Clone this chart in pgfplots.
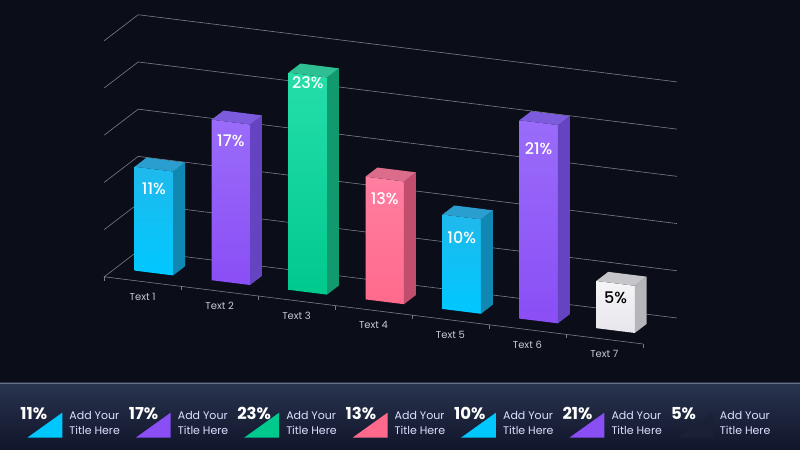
\documentclass[border=0pt]{standalone}
\usepackage{pgfplots}
\pgfplotsset{compat=1.18}
\usepackage{fontspec}
\setmainfont{Poppins}
\newfontfamily\pmed{Poppins Medium}
\definecolor{bg}{HTML}{0B0E18}
\definecolor{stripA}{HTML}{29344F}
\definecolor{stripB}{HTML}{10152A}
\definecolor{gridc}{HTML}{7A7E88}
\definecolor{tickc}{HTML}{C9CBD3}
% bar colours
\definecolor{cyF1}{HTML}{1FB9EC}\definecolor{cyF2}{HTML}{00C8FF}\definecolor{cyS}{HTML}{1187B3}\definecolor{cyT}{HTML}{2A9FCF}
\definecolor{puF1}{HTML}{9A6CFA}\definecolor{puF2}{HTML}{8A4EF5}\definecolor{puS}{HTML}{6444C0}\definecolor{puT}{HTML}{7C5CDC}
\definecolor{grF1}{HTML}{25DEA9}\definecolor{grF2}{HTML}{00C98E}\definecolor{grS}{HTML}{109A6E}\definecolor{grT}{HTML}{2EBF92}
\definecolor{piF1}{HTML}{FF7EA0}\definecolor{piF2}{HTML}{FF6A8C}\definecolor{piS}{HTML}{C24E6E}\definecolor{piT}{HTML}{DC6C8C}
\definecolor{whF1}{HTML}{F5F5F8}\definecolor{whF2}{HTML}{E6E6EC}\definecolor{whS}{HTML}{B5B5BA}\definecolor{whT}{HTML}{C6C6CA}
\definecolor{legdark}{HTML}{1A2036}
\begin{document}
\begin{tikzpicture}[x=1pt,y=1pt]
\fill[bg] (0,0) rectangle (800,-450);
\shade[top color=stripA, bottom color=stripB] (0,-383) rectangle (800,-450);
\draw[stripA!70!white, line width=0.6pt] (0,-383.3) -- (800,-383.3);
\begin{axis}[at={(104pt,-277pt)}, anchor=origin,
  x={(77pt,-9.6pt)}, y={(34pt,26pt)}, z={(0pt,9.45pt)},
  xmin=0, xmax=7, ymin=0, ymax=1, zmin=0, zmax=25,
  hide axis, clip=false]
% grid: left wall and back wall
\draw[gridc, line width=0.6pt] (axis cs:0,0,5) -- (axis cs:0,1,5) -- (axis cs:7,1,5);
\draw[gridc, line width=0.6pt] (axis cs:0,0,10) -- (axis cs:0,1,10) -- (axis cs:7,1,10);
\draw[gridc, line width=0.6pt] (axis cs:0,0,15) -- (axis cs:0,1,15) -- (axis cs:7,1,15);
\draw[gridc, line width=0.6pt] (axis cs:0,0,20) -- (axis cs:0,1,20) -- (axis cs:7,1,20);
\draw[gridc, line width=0.6pt] (axis cs:0,0,25) -- (axis cs:0,1,25) -- (axis cs:7,1,25);
% floor
\draw[gridc, line width=0.6pt] (axis cs:7,0,0) -- (axis cs:0,0,0) -- (axis cs:0,1,0) -- (axis cs:7,1,0);
% ticks
\draw[gridc, line width=0.6pt] (axis cs:0,0,0) -- ++(0pt,-4pt);
\draw[gridc, line width=0.6pt] (axis cs:1,0,0) -- ++(0pt,-4pt);
\draw[gridc, line width=0.6pt] (axis cs:2,0,0) -- ++(0pt,-4pt);
\draw[gridc, line width=0.6pt] (axis cs:3,0,0) -- ++(0pt,-4pt);
\draw[gridc, line width=0.6pt] (axis cs:4,0,0) -- ++(0pt,-4pt);
\draw[gridc, line width=0.6pt] (axis cs:5,0,0) -- ++(0pt,-4pt);
\draw[gridc, line width=0.6pt] (axis cs:6,0,0) -- ++(0pt,-4pt);
\draw[gridc, line width=0.6pt] (axis cs:7,0,0) -- ++(0pt,-4pt);
% tick labels
\node[text=tickc, font=\fontsize{10}{11}\selectfont, yshift=-15pt] at (axis cs:0.5,0,0) {Text 1};
\node[text=tickc, font=\fontsize{10}{11}\selectfont, yshift=-15pt] at (axis cs:1.5,0,0) {Text 2};
\node[text=tickc, font=\fontsize{10}{11}\selectfont, yshift=-15pt] at (axis cs:2.5,0,0) {Text 3};
\node[text=tickc, font=\fontsize{10}{11}\selectfont, yshift=-15pt] at (axis cs:3.5,0,0) {Text 4};
\node[text=tickc, font=\fontsize{10}{11}\selectfont, yshift=-15pt] at (axis cs:4.5,0,0) {Text 5};
\node[text=tickc, font=\fontsize{10}{11}\selectfont, yshift=-15pt] at (axis cs:5.5,0,0) {Text 6};
\node[text=tickc, font=\fontsize{10}{11}\selectfont, yshift=-15pt] at (axis cs:6.5,0,0) {Text 7};
% ---- Bar 1 : 11
\addplot3[draw=none, top color=cyF1, bottom color=cyF2] coordinates {(0.25,0.33,0) (0.75,0.33,0) (0.75,0.33,11) (0.25,0.33,11)} -- cycle;
\addplot3[draw=none, fill=cyS] coordinates {(0.75,0.33,0) (0.75,0.68,0) (0.75,0.68,11) (0.75,0.33,11)} -- cycle;
\addplot3[draw=none, fill=cyT] coordinates {(0.25,0.33,11) (0.75,0.33,11) (0.75,0.68,11) (0.25,0.68,11)} -- cycle;
% ---- Bar 2 : 17
\addplot3[draw=none, top color=puF1, bottom color=puF2] coordinates {(1.25,0.33,0) (1.75,0.33,0) (1.75,0.33,17) (1.25,0.33,17)} -- cycle;
\addplot3[draw=none, fill=puS] coordinates {(1.75,0.33,0) (1.75,0.68,0) (1.75,0.68,17) (1.75,0.33,17)} -- cycle;
\addplot3[draw=none, fill=puT] coordinates {(1.25,0.33,17) (1.75,0.33,17) (1.75,0.68,17) (1.25,0.68,17)} -- cycle;
% ---- Bar 3 : 23
\addplot3[draw=none, top color=grF1, bottom color=grF2] coordinates {(2.25,0.33,0) (2.75,0.33,0) (2.75,0.33,23) (2.25,0.33,23)} -- cycle;
\addplot3[draw=none, fill=grS] coordinates {(2.75,0.33,0) (2.75,0.68,0) (2.75,0.68,23) (2.75,0.33,23)} -- cycle;
\addplot3[draw=none, fill=grT] coordinates {(2.25,0.33,23) (2.75,0.33,23) (2.75,0.68,23) (2.25,0.68,23)} -- cycle;
% ---- Bar 4 : 13
\addplot3[draw=none, top color=piF1, bottom color=piF2] coordinates {(3.25,0.33,0) (3.75,0.33,0) (3.75,0.33,13) (3.25,0.33,13)} -- cycle;
\addplot3[draw=none, fill=piS] coordinates {(3.75,0.33,0) (3.75,0.68,0) (3.75,0.68,13) (3.75,0.33,13)} -- cycle;
\addplot3[draw=none, fill=piT] coordinates {(3.25,0.33,13) (3.75,0.33,13) (3.75,0.68,13) (3.25,0.68,13)} -- cycle;
% ---- Bar 5 : 10
\addplot3[draw=none, top color=cyF1, bottom color=cyF2] coordinates {(4.25,0.33,0) (4.75,0.33,0) (4.75,0.33,10) (4.25,0.33,10)} -- cycle;
\addplot3[draw=none, fill=cyS] coordinates {(4.75,0.33,0) (4.75,0.68,0) (4.75,0.68,10) (4.75,0.33,10)} -- cycle;
\addplot3[draw=none, fill=cyT] coordinates {(4.25,0.33,10) (4.75,0.33,10) (4.75,0.68,10) (4.25,0.68,10)} -- cycle;
% ---- Bar 6 : 21
\addplot3[draw=none, top color=puF1, bottom color=puF2] coordinates {(5.25,0.33,0) (5.75,0.33,0) (5.75,0.33,21) (5.25,0.33,21)} -- cycle;
\addplot3[draw=none, fill=puS] coordinates {(5.75,0.33,0) (5.75,0.68,0) (5.75,0.68,21) (5.75,0.33,21)} -- cycle;
\addplot3[draw=none, fill=puT] coordinates {(5.25,0.33,21) (5.75,0.33,21) (5.75,0.68,21) (5.25,0.68,21)} -- cycle;
% ---- Bar 7 : 5
\addplot3[draw=none, top color=whF1, bottom color=whF2] coordinates {(6.25,0.33,0) (6.75,0.33,0) (6.75,0.33,5) (6.25,0.33,5)} -- cycle;
\addplot3[draw=none, fill=whS] coordinates {(6.75,0.33,0) (6.75,0.68,0) (6.75,0.68,5) (6.75,0.33,5)} -- cycle;
\addplot3[draw=none, fill=whT] coordinates {(6.25,0.33,5) (6.75,0.33,5) (6.75,0.68,5) (6.25,0.68,5)} -- cycle;
% bar labels
\node[text=white, font=\pmed\fontsize{16}{17}\selectfont, yshift=-20pt] at (axis cs:0.5,0.33,11) {11\%};
\node[text=white, font=\pmed\fontsize{16}{17}\selectfont, yshift=-19pt] at (axis cs:1.5,0.33,17) {17\%};
\node[text=white, font=\pmed\fontsize{16}{17}\selectfont, yshift=-8pt] at (axis cs:2.5,0.33,23) {23\%};
\node[text=white, font=\pmed\fontsize{16}{17}\selectfont, yshift=-20pt] at (axis cs:3.5,0.33,13) {13\%};
\node[text=white, font=\pmed\fontsize{16}{17}\selectfont, yshift=-21pt] at (axis cs:4.5,0.33,10) {10\%};
\node[text=white, font=\pmed\fontsize{16}{17}\selectfont, yshift=-26pt] at (axis cs:5.5,0.33,21) {21\%};
\node[text=black, font=\pmed\fontsize{16}{17}\selectfont, yshift=-14pt] at (axis cs:6.5,0.33,5) {5\%};
\end{axis}
% ---- bottom legend strip
\foreach \s/\v/\c in {20/11/cyF2, 128.5/17/puF2, 237/23/grF2, 345.5/13/piF2, 454/10/cyF2, 562.5/21/puF2, 671/5/legdark}{
  \fill[\c] (\s+7,-438) -- (\s+42,-438) -- (\s+42,-413) -- cycle;
  \node[anchor=base west, inner sep=0pt, text=white, font=\bfseries\fontsize{16.5}{18}\selectfont] at (\s,-420) {\v\%};
  \node[anchor=base west, inner sep=0pt, text=white!88!blue, font=\fontsize{11}{12}\selectfont] at (\s+49,-420) {Add Your};
  \node[anchor=base west, inner sep=0pt, text=white!88!blue, font=\fontsize{11}{12}\selectfont] at (\s+49,-434.5) {Title Here};
}
\end{tikzpicture}
\end{document}
